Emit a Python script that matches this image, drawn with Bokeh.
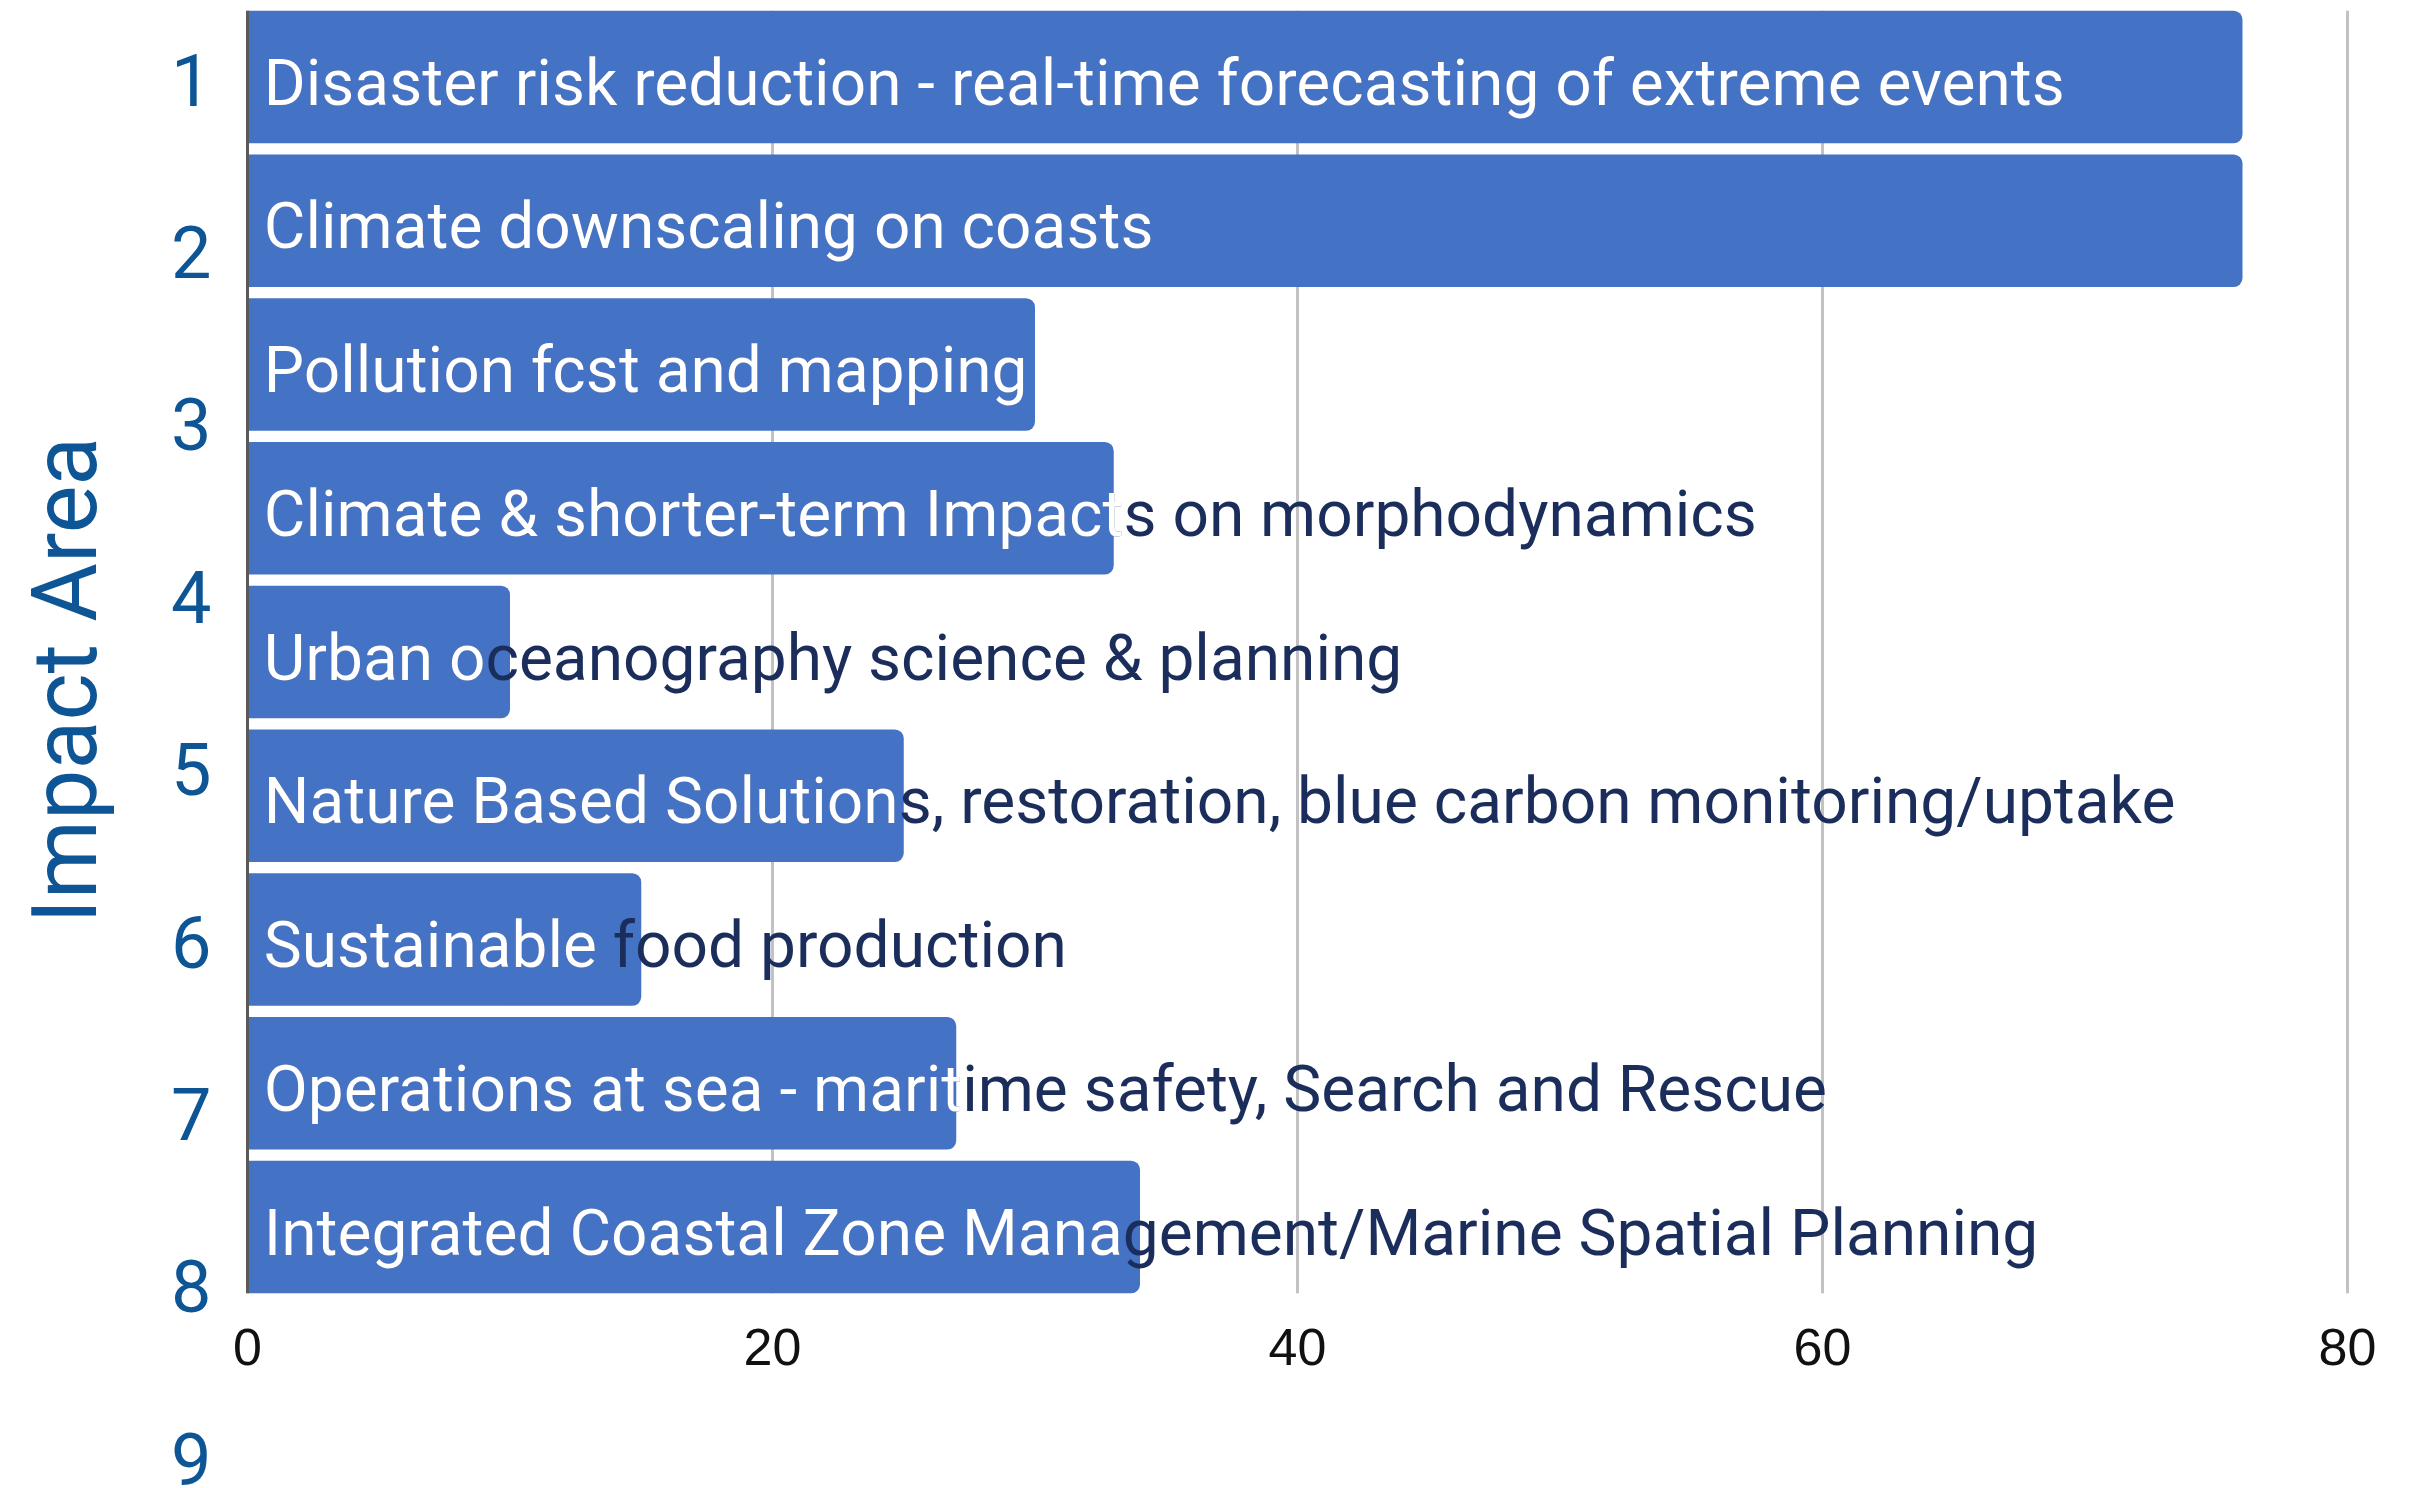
import math
from bokeh.plotting import figure
from bokeh.models import Range1d, LinearAxis, FixedTicker, Label
from bokeh.core.properties import value
from bokeh.embed import file_html
from bokeh.resources import INLINE

# ---------------- data ----------------
areas = [1, 2, 3, 4, 5, 6, 7, 8, 9]
labels = [
    "Disaster risk reduction - real-time forecasting of extreme events",
    "Climate downscaling on coasts",
    "Pollution fcst and mapping",
    "Climate & shorter-term Impacts on morphodynamics",
    "Urban oceanography science & planning",
    "Nature Based Solutions, restoration, blue carbon monitoring/uptake",
    "Sustainable food production",
    "Operations at sea - maritime safety, Search and Rescue",
    "Integrated Coastal Zone Management/Marine Spatial Planning",
]
# part of each label drawn in white (over the bar)
inside = [
    "Disaster risk reduction - real-time forecasting of extreme events",
    "Climate downscaling on coasts",
    "Pollution fcst and mapping",
    "Climate & shorter-term Impact",
    "Urban o",
    "Nature Based Solution",
    "Sustainable ",
    "Operations at sea - marit",
    "Integrated Coastal Zone Mana",
]
values = [76, 76, 30, 33, 10, 25, 15, 27, 34]
x_ticks = [0, 20, 40, 60, 80]
area_numbers = [1, 2, 3, 4, 5, 6, 7, 8, 9]
axis_title = "Impact Area"

# ---------------- layout constants (pixels in figure) ----------------
W, H = 2408, 1488
FRAME_L, FRAME_R = 0, 2390
FRAME_T, FRAME_B = 4, 1488
AXIS_PX = 244.0
X0_PX, PX_PER_UNIT = 247.0, 26.25
SLOT = 143.75
BAR1_C = 76.5
NUM1_C, NUM_STEP = 79.0, 172.4
BAR_H = 0.922
TITLE_BASE_PX, TITLE_START_PX = 65.0, 923.0

BAR_COLOR = "#4472c4"
BLUE = "#0e5596"
NAVY = "#1b2d5b"

def px_to_x(px):
    return (px - X0_PX) / PX_PER_UNIT

def px_to_y(py):
    return 1 + (py - BAR1_C) / SLOT

x_start = px_to_x(FRAME_L)
x_end = px_to_x(FRAME_R)
y_top = px_to_y(FRAME_T)
y_bot = px_to_y(FRAME_B)
n_top = 1 + (FRAME_T - NUM1_C) / NUM_STEP
n_bot = 1 + (FRAME_B - NUM1_C) / NUM_STEP

p = figure(
    width=W, height=H,
    x_range=Range1d(x_start, x_end),
    y_range=Range1d(start=y_bot, end=y_top),
    output_backend="svg", toolbar_location=None,
    y_axis_location=None,
    min_border_left=FRAME_L, min_border_right=W - FRAME_R,
    min_border_top=FRAME_T, min_border_bottom=H - FRAME_B,
    outline_line_color=None, background_fill_color="white",
)
p.xgrid.visible = False
p.ygrid.visible = False

bar_top = areas[0] - BAR_H / 2
bar_bottom = areas[-1] + BAR_H / 2

# grid lines
p.segment(x0=x_ticks[1:], y0=[bar_top] * 4, x1=x_ticks[1:], y1=[bar_bottom] * 4,
          line_color="#c2c2c2", line_width=3)

# bars
p.hbar(y=areas, left=0, right=values, height=BAR_H, fill_color=BAR_COLOR,
       line_color=None, border_radius=(0, 9, 9, 0))

# zero line
p.segment(x0=x_ticks[:1], y0=[bar_top], x1=x_ticks[:1], y1=[bar_bottom],
          line_color="#5a5a5a", line_width=3)

# labels: navy full text then white part over the bar
TEXT_X = 0.62
p.text(x=[TEXT_X] * len(areas), y=areas, text=labels, text_color=NAVY,
       text_font=value("Roboto"), text_font_size="64px",
       text_baseline="middle", text_align="left", y_offset=6)
p.text(x=[TEXT_X] * len(areas), y=areas, text=inside, text_color="white",
       text_font=value("Roboto"), text_font_size="64px",
       text_baseline="middle", text_align="left", y_offset=6)

# x axis placed at bottom of bars
xa = p.xaxis[0]
xa.fixed_location = bar_bottom
xa.ticker = FixedTicker(ticks=x_ticks)
xa.axis_line_color = None
xa.major_tick_line_color = None
xa.minor_tick_line_color = None
xa.major_tick_out = 0
xa.major_tick_in = 0
xa.major_label_standoff = 36
xa.major_label_text_font = "'Liberation Sans Narrow', 'Liberation Sans'"
xa.major_label_text_font_size = "52px"
xa.major_label_text_color = "#111111"

# left axis with area numbers (fixed just left of the bars)
p.extra_y_ranges = {"num": Range1d(start=n_bot, end=n_top)}
ya = LinearAxis(y_range_name="num", ticker=FixedTicker(ticks=area_numbers),
                fixed_location=px_to_x(AXIS_PX))
ya.axis_line_color = None
ya.major_tick_line_color = None
ya.minor_tick_line_color = None
ya.major_tick_out = 0
ya.major_tick_in = 0
ya.major_label_standoff = 33
ya.major_label_text_font = "Roboto"
ya.major_label_text_font_size = "72px"
ya.major_label_text_color = BLUE
p.add_layout(ya, "left")

title = Label(x=px_to_x(TITLE_BASE_PX), y=px_to_y(TITLE_START_PX),
              x_units="data", y_units="data", text=axis_title,
              angle=math.pi / 2, text_align="left", text_baseline="alphabetic",
              text_font="Roboto", text_font_size="90px", text_color=BLUE)
p.add_layout(title)

open("out.html", "w").write(file_html(p, INLINE))
